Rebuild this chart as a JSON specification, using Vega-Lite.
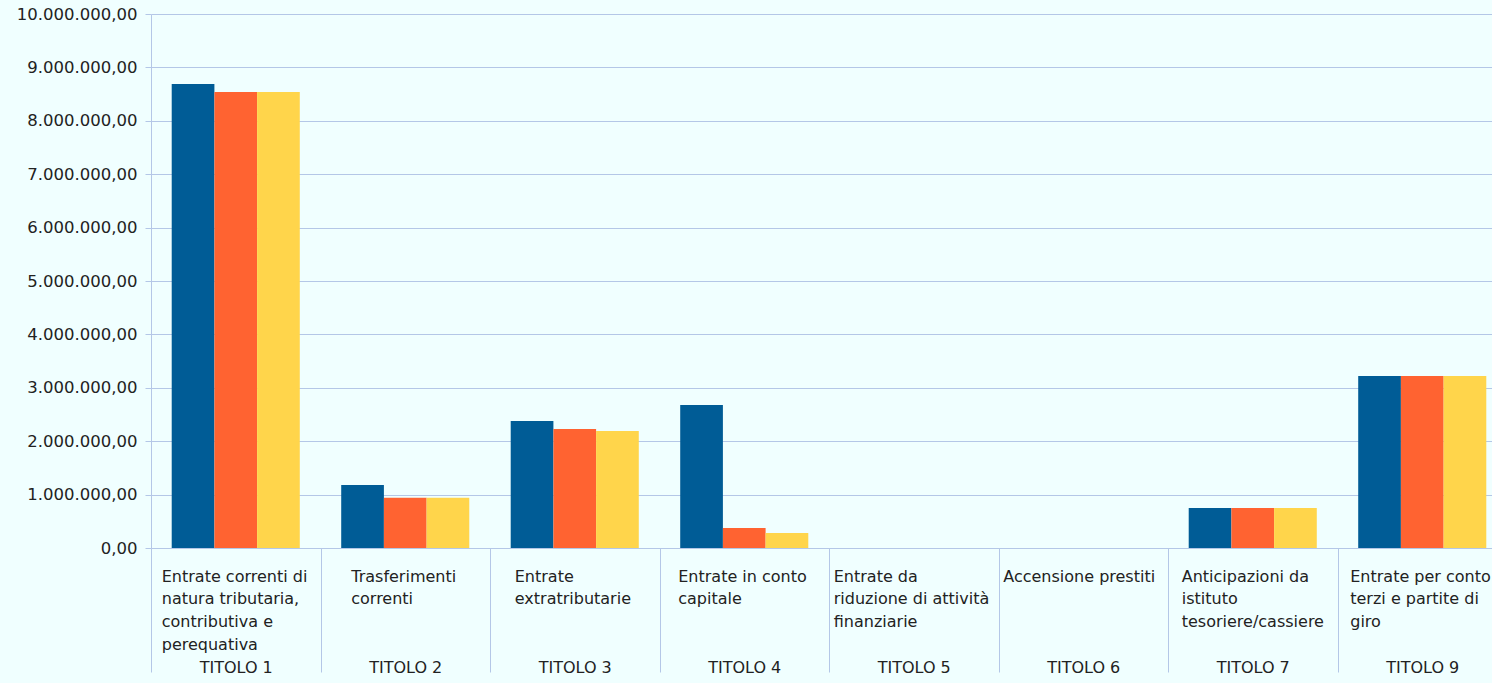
{
  "$schema": "https://vega.github.io/schema/vega-lite/v6.json",
  "width": 1341,
  "height": 534,
  "autosize": {"type": "none"},
  "padding": {"left": 151, "top": 14, "right": 0, "bottom": 135},
  "background": "#F0FFFF",
  "config": {
    "view": {"stroke": null},
    "locale": {"number": {"decimal": ",", "thousands": ".", "grouping": [3], "currency": ["", " €"]}},
    "axis": {"labelFont": "DejaVu Sans", "labelFontSize": 16, "labelColor": "#222222", "title": null}
  },
  "data": {
    "values": [
      {"cat": "TITOLO 1|Entrate correnti di|natura tributaria,|contributiva e|perequativa", "serie": "Previsioni", "valore": 8690000},
      {"cat": "TITOLO 1|Entrate correnti di|natura tributaria,|contributiva e|perequativa", "serie": "Accertamenti", "valore": 8540000},
      {"cat": "TITOLO 1|Entrate correnti di|natura tributaria,|contributiva e|perequativa", "serie": "Riscossioni", "valore": 8540000},
      {"cat": "TITOLO 2|Trasferimenti|correnti", "serie": "Previsioni", "valore": 1180000},
      {"cat": "TITOLO 2|Trasferimenti|correnti", "serie": "Accertamenti", "valore": 940000},
      {"cat": "TITOLO 2|Trasferimenti|correnti", "serie": "Riscossioni", "valore": 940000},
      {"cat": "TITOLO 3|Entrate|extratributarie", "serie": "Previsioni", "valore": 2380000},
      {"cat": "TITOLO 3|Entrate|extratributarie", "serie": "Accertamenti", "valore": 2230000},
      {"cat": "TITOLO 3|Entrate|extratributarie", "serie": "Riscossioni", "valore": 2190000},
      {"cat": "TITOLO 4|Entrate in conto|capitale", "serie": "Previsioni", "valore": 2680000},
      {"cat": "TITOLO 4|Entrate in conto|capitale", "serie": "Accertamenti", "valore": 375000},
      {"cat": "TITOLO 4|Entrate in conto|capitale", "serie": "Riscossioni", "valore": 280000},
      {"cat": "TITOLO 5|Entrate da|riduzione di attività|finanziarie", "serie": "Previsioni", "valore": 0},
      {"cat": "TITOLO 5|Entrate da|riduzione di attività|finanziarie", "serie": "Accertamenti", "valore": 0},
      {"cat": "TITOLO 5|Entrate da|riduzione di attività|finanziarie", "serie": "Riscossioni", "valore": 0},
      {"cat": "TITOLO 6|Accensione prestiti", "serie": "Previsioni", "valore": 0},
      {"cat": "TITOLO 6|Accensione prestiti", "serie": "Accertamenti", "valore": 0},
      {"cat": "TITOLO 6|Accensione prestiti", "serie": "Riscossioni", "valore": 0},
      {"cat": "TITOLO 7|Anticipazioni da|istituto|tesoriere/cassiere", "serie": "Previsioni", "valore": 750000},
      {"cat": "TITOLO 7|Anticipazioni da|istituto|tesoriere/cassiere", "serie": "Accertamenti", "valore": 750000},
      {"cat": "TITOLO 7|Anticipazioni da|istituto|tesoriere/cassiere", "serie": "Riscossioni", "valore": 750000},
      {"cat": "TITOLO 9|Entrate per conto|terzi e partite di|giro", "serie": "Previsioni", "valore": 3220000},
      {"cat": "TITOLO 9|Entrate per conto|terzi e partite di|giro", "serie": "Accertamenti", "valore": 3220000},
      {"cat": "TITOLO 9|Entrate per conto|terzi e partite di|giro", "serie": "Riscossioni", "valore": 3220000}
    ]
  },
  "encoding": {
    "y": {
      "field": "valore",
      "type": "quantitative",
      "scale": {"domain": [0, 10000000], "nice": false},
      "axis": {
        "values": [0, 1000000, 2000000, 3000000, 4000000, 5000000, 6000000, 7000000, 8000000, 9000000, 10000000],
        "format": ",.2f",
        "grid": true,
        "gridColor": "#B4C7E7",
        "domainColor": "#B4C7E7",
        "tickColor": "#B4C7E7",
        "tickSize": 6,
        "labelPadding": 8,
        "labelFontSize": 16.5,
        "title": null
      }
    }
  },
  "layer": [
    {
      "mark": {"type": "bar"},
      "encoding": {
        "x": {
          "field": "cat",
          "type": "nominal",
          "sort": null,
          "scale": {"range": [0, 1356], "paddingInner": 0, "paddingOuter": 0},
          "axis": {
            "orient": "bottom",
            "labelExpr": "isValid(datum.value) ? slice(split(datum.value, '|'), 1) : ''",
            "labelAlign": "left",
            "labelBaseline": "top",
            "labelPadding": 20,
            "labelLineHeight": 22.7,
            "labelAngle": 0,
            "labelLimit": 0,
            "labelOverlap": false,
            "labelOffset": {
              "condition": [
                {"test": "indexof(datum.value, 'TITOLO 1|') == 0", "value": -74},
                {"test": "indexof(datum.value, 'TITOLO 2|') == 0", "value": -54},
                {"test": "indexof(datum.value, 'TITOLO 3|') == 0", "value": -60},
                {"test": "indexof(datum.value, 'TITOLO 4|') == 0", "value": -66},
                {"test": "indexof(datum.value, 'TITOLO 5|') == 0", "value": -80},
                {"test": "indexof(datum.value, 'TITOLO 6|') == 0", "value": -80},
                {"test": "indexof(datum.value, 'TITOLO 7|') == 0", "value": -71}
              ],
              "value": -72
            },
            "ticks": false,
            "domain": true,
            "domainColor": "#B4C7E7",
            "grid": false,
            "title": null
          }
        },
        "xOffset": {
          "field": "serie",
          "type": "nominal",
          "sort": null,
          "scale": {"paddingInner": 0, "paddingOuter": 0.485}
        },
        "color": {
          "field": "serie",
          "type": "nominal",
          "sort": null,
          "scale": {"domain": ["Previsioni", "Accertamenti", "Riscossioni"], "range": ["#005C96", "#FF6331", "#FFD54B"]},
          "legend": null
        }
      }
    },
    {
      "mark": {"type": "bar", "opacity": 0},
      "encoding": {
        "x": {
          "field": "cat",
          "type": "nominal",
          "sort": null,
          "scale": {"range": [0, 1356], "paddingInner": 0, "paddingOuter": 0},
          "axis": {
            "orient": "bottom",
            "labelExpr": "isValid(datum.value) ? split(datum.value, '|')[0] : ''",
            "labelAlign": "center",
            "labelBaseline": "middle",
            "labelPadding": -5,
            "labelAngle": 0,
            "labelLimit": 0,
            "labelOverlap": false,
            "ticks": true,
            "tickBand": "extent",
            "tickSize": 124,
            "tickColor": "#B4C7E7",
            "domain": false,
            "grid": false,
            "title": null
          }
        }
      }
    }
  ],
  "resolve": {"axis": {"x": "independent"}}
}
